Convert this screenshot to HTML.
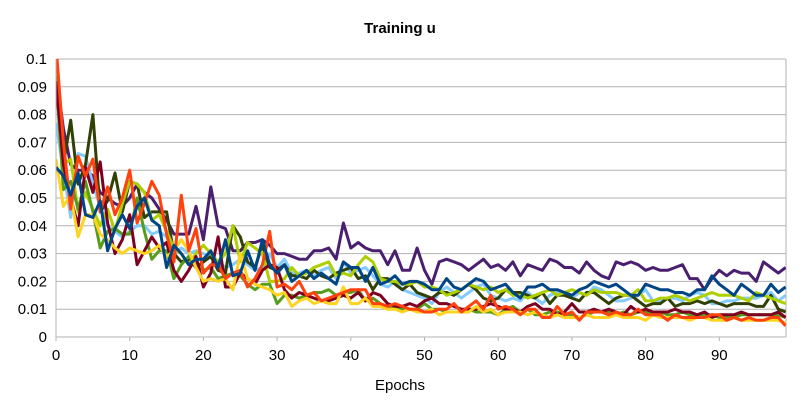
<!DOCTYPE html>
<html><head><meta charset="utf-8"><style>
body{margin:0;background:#fff;font-family:"Liberation Sans",sans-serif}
svg text{font-family:"Liberation Sans",sans-serif}
</style></head><body>
<svg id="c" width="803" height="415">
<text x="400" y="33" text-anchor="middle" font-weight="bold" font-size="15">Training u</text>
<text x="400" y="390" text-anchor="middle" font-size="15">Epochs</text>
<g id="grid"></g><g id="series"></g><g id="axes"></g>
</svg>
<script>
const yTicks=[0,0.01,0.02,0.03,0.04,0.05,0.06,0.07,0.08,0.09,0.1];
const yTickLabels=["0","0.01","0.02","0.03","0.04","0.05","0.06","0.07","0.08","0.09","0.1"];
const xTicks=[0,10,20,30,40,50,60,70,80,90];
const purple=[95,75,62,60,60,58,52,50,48,47,50,55,52,50,46,42,37,37,37,47,35,54,40,39,31,31,34,34,35,33,30,30,29,28,28,31,31,32,28,41,32,34,32,31,31,26,31,24,24,32,24,19,27,28,27,26,24,26,28,25,26,24,27,22,26,25,24,28,27,25,25,23,27,24,22,21,27,26,27,26,24,25,24,24,25,26,21,21,17,21,24,22,24,23,23,20,27,25,23,25];
const lightBlue=[77,60,43,66,65,55,47,40,38,36,38,40,40,37,38,36,30,32,30,31,30,29,27,25,26,28,26,24,25,30,25,28,23,23,24,22,24,25,21,27,23,24,25,22,19,18,20,17,16,15,14,12,16,18,16,14,16,18,19,15,14,13,14,13,16,14,12,15,16,15,14,16,15,18,17,15,13,13,14,15,17,13,13,14,14,13,15,16,15,12,12,13,13,14,14,14,15,16,13,15];
const darkOlive=[100,62,78,55,62,80,45,49,59,45,56,55,43,45,45,45,30,27,28,25,27,29,24,23,40,36,27,25,33,25,24,26,22,22,21,24,22,21,23,24,25,21,22,17,21,21,19,17,19,16,15,14,16,16,15,17,19,17,14,13,14,17,16,16,15,14,16,12,15,15,14,13,16,16,14,12,14,15,15,13,11,12,12,14,11,12,12,13,12,13,12,11,12,12,12,11,11,15,10,9];
const lime=[95,62,64,45,52,46,40,46,38,48,56,55,52,42,44,38,32,30,26,30,33,30,27,30,40,27,34,32,30,20,20,21,25,22,23,25,26,27,22,23,22,26,29,27,21,20,20,19,19,20,18,18,17,15,16,17,19,18,17,18,16,17,15,15,14,15,16,17,15,16,17,16,15,17,16,16,16,15,15,17,13,13,14,14,15,14,13,14,15,16,15,15,15,14,13,16,15,14,13,12];
const green=[94,53,56,46,56,45,32,38,39,37,37,50,38,28,31,31,21,26,29,26,24,25,21,22,23,22,19,17,19,19,12,15,15,14,15,16,16,17,15,16,16,17,13,14,12,10,11,10,10,10,12,10,10,9,9,9,10,9,9,9,8,10,11,9,10,8,8,9,9,8,8,7,8,9,9,9,8,9,8,9,9,8,9,8,8,9,8,7,8,8,7,7,7,8,8,8,8,8,8,7];
const darkRed=[92,62,50,40,61,52,63,41,30,35,44,26,31,36,32,34,24,20,24,29,18,23,36,18,18,23,21,19,24,26,25,17,14,16,15,14,13,13,14,15,14,16,13,16,15,12,11,11,12,11,13,14,12,12,11,10,10,10,11,12,11,10,10,9,11,12,10,10,8,9,12,9,9,10,9,10,9,8,11,9,10,9,9,9,10,9,9,8,9,7,8,8,8,9,8,8,8,8,9,7];
const yellow=[64,47,51,36,44,44,37,35,32,30,32,31,30,31,33,29,31,35,31,25,20,21,20,21,17,30,21,19,18,17,15,16,11,13,14,12,13,12,12,18,12,12,14,11,11,10,10,9,10,9,9,10,8,9,9,9,9,11,9,10,8,9,9,9,8,9,8,7,8,7,7,7,8,7,7,7,8,7,7,7,6,8,7,7,7,7,6,7,7,6,6,6,7,6,6,6,6,6,6,5];
const orangeRed=[105,70,46,65,58,64,45,54,44,50,60,41,48,56,51,37,27,51,31,39,23,26,26,21,23,24,18,21,26,38,18,19,17,20,15,16,13,14,15,16,17,17,17,12,12,11,12,11,10,10,9,9,10,10,12,9,11,13,10,15,10,11,10,8,10,10,7,7,11,8,9,6,9,9,9,8,9,8,8,10,8,8,8,6,8,7,7,7,7,8,8,6,7,6,7,6,6,7,7,4];
const darkBlue=[61,58,51,59,44,43,49,31,39,44,39,47,50,42,40,25,33,30,26,28,28,31,25,35,22,23,31,24,35,26,23,26,20,22,24,21,23,21,19,27,25,25,20,25,19,20,22,19,20,20,19,17,17,21,18,17,19,21,20,17,18,19,16,14,18,18,19,17,17,16,15,17,18,20,19,18,19,17,15,15,19,18,17,17,16,16,15,17,17,22,19,17,15,19,17,15,15,19,16,18];
const seriesList=[["purple",purple,"#4b1f6f"],["light-blue",lightBlue,"#83caff"],["dark-olive",darkOlive,"#314004"],["lime",lime,"#aecf00"],["green",green,"#579d1c"],["dark-red",darkRed,"#7e0021"],["yellow",yellow,"#ffd320"],["orange-red",orangeRed,"#ff420e"],["dark-blue",darkBlue,"#004586"]];
const NS="http://www.w3.org/2000/svg";
const X0=56,X1=786,Y0=337,Y1=59;
const xs=i=>X0+i*(X1-X0)/99.05;
const ys=v=>Y0-(v/1000)*(Y0-Y1)/0.1;
const yv=v=>Y0-v*(Y0-Y1)/0.1;
const svg=document.getElementById('c');
const defs=document.createElementNS(NS,'defs');
defs.innerHTML='<clipPath id="clip"><rect x="'+X0+'" y="'+Y1+'" width="'+(X1-X0)+'" height="'+(Y0-Y1)+'"/></clipPath>';
svg.appendChild(defs);
const grid=document.getElementById('grid');
yTicks.forEach((t,i)=>{
 const l=document.createElementNS(NS,'line');
 l.setAttribute('x1',X0);l.setAttribute('x2',X1);l.setAttribute('y1',yv(t));l.setAttribute('y2',yv(t));
 l.setAttribute('stroke','#b3b3b3');l.setAttribute('stroke-width','1');
 
 
 grid.appendChild(l);
 const tx=document.createElementNS(NS,'text');
 tx.setAttribute('x',47);tx.setAttribute('y',yv(t)+5);tx.setAttribute('text-anchor','end');tx.setAttribute('font-size','15');
 tx.textContent=yTickLabels[i];
 
 
 grid.appendChild(tx);
});
const axes=document.getElementById('axes');
const rb=document.createElementNS(NS,'line');
rb.setAttribute('x1',X1);rb.setAttribute('x2',X1);rb.setAttribute('y1',Y1);rb.setAttribute('y2',Y0);rb.setAttribute('stroke','#b3b3b3');


grid.appendChild(rb);
const ax=document.createElementNS(NS,'path');
ax.setAttribute('d','M'+X0+' '+Y1+'V'+Y0+'H'+X1);ax.setAttribute('stroke','#b3b3b3');ax.setAttribute('fill','none');


axes.appendChild(ax);
xTicks.forEach(t=>{
 const tk=document.createElementNS(NS,'line');
 tk.setAttribute('x1',xs(t));tk.setAttribute('x2',xs(t));tk.setAttribute('y1',Y0);tk.setAttribute('y2',Y0+4);tk.setAttribute('stroke','#b3b3b3');
 
 
 axes.appendChild(tk);
 const tx=document.createElementNS(NS,'text');
 tx.setAttribute('x',xs(t));tx.setAttribute('y',360);tx.setAttribute('text-anchor','middle');tx.setAttribute('font-size','15');
 tx.textContent=t;
 
 
 axes.appendChild(tx);
});
const sg=document.getElementById('series');
sg.setAttribute('clip-path','url(#clip)');
seriesList.forEach(s=>{
 const p=document.createElementNS(NS,'polyline');
 p.setAttribute('points',s[1].map((v,i)=>xs(i).toFixed(1)+','+ys(v).toFixed(1)).join(' '));
 p.setAttribute('fill','none');p.setAttribute('stroke',s[2]);p.setAttribute('stroke-width','3');p.setAttribute('stroke-linejoin','round');
 
 
 sg.appendChild(p);
});
</script>
</body></html>
